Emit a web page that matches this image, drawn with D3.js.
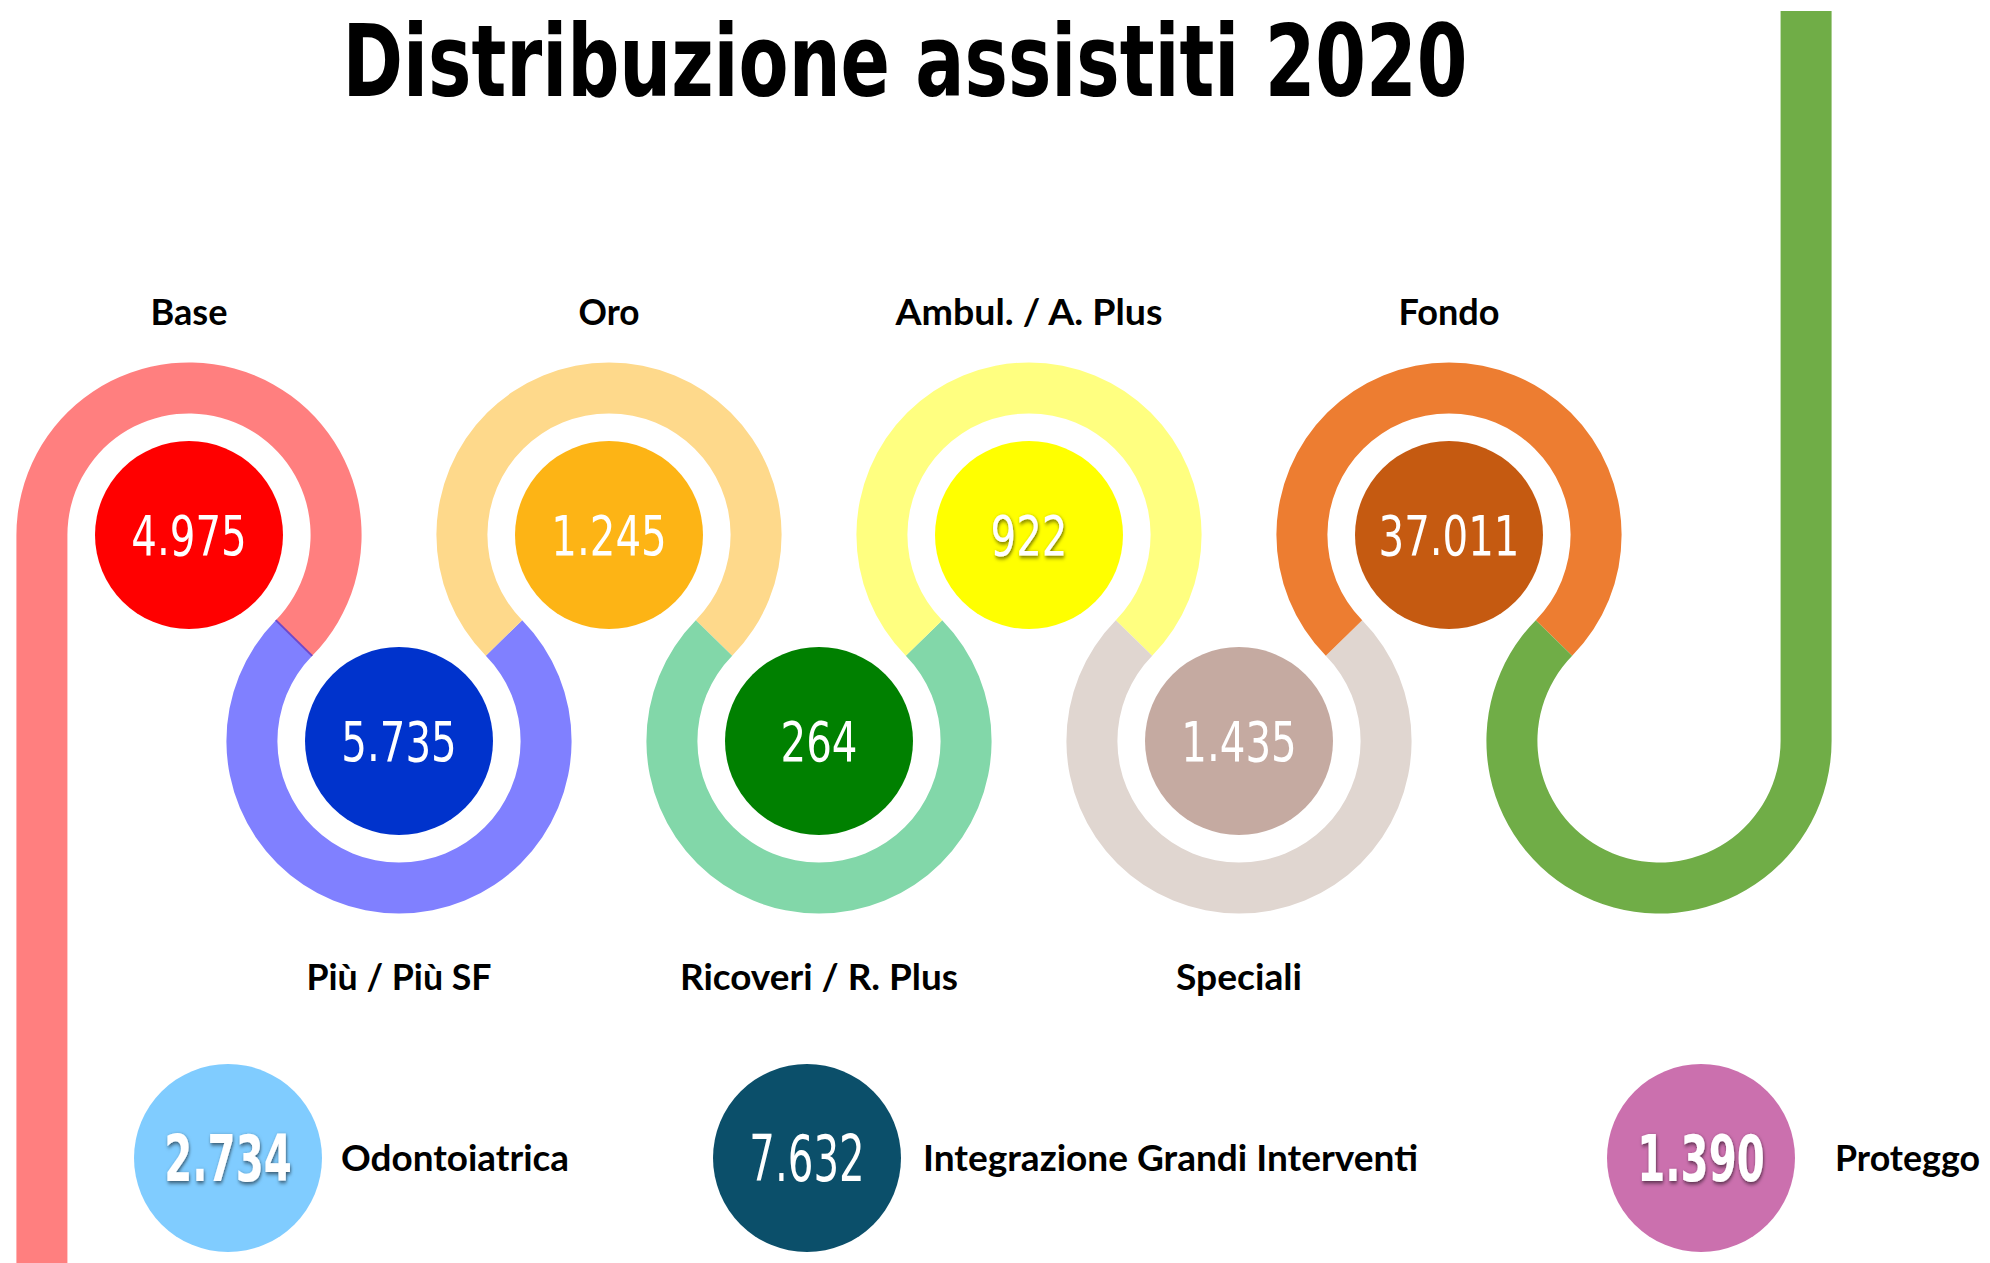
<!DOCTYPE html>
<html>
<head>
<meta charset="utf-8">
<script src="https://cdn.jsdelivr.net/npm/d3@7/dist/d3.min.js"></script>
<style>
  body { margin: 0; background: #fff; }
</style>
</head>
<body>
<script>
var width = 1990;
var height = 1263;

// the path, left to right (last step is only the green tail)
var steps = ["Base", "Più / Più SF", "Oro", "Ricoveri / R. Plus", "Ambul. / A. Plus", "Speciali", "Fondo"];
var assistiti = [4975, 5735, 1245, 264, 922, 1435, 37011];
var ringColors = ["#ff7f7f", "#8080ff", "#fed98b", "#82d7a9", "#ffff80", "#e0d6d0", "#ed7d31", "#70ad47"];
var dotColors = ["#ff0000", "#0033cc", "#fdb415", "#008000", "#ffff00", "#c5aaa1", "#c55a11"];

// other products at the bottom
var others = ["Odontoiatrica", "Integrazione Grandi Interventi", "Proteggo"];
var othersValues = [2734, 7632, 1390];
var othersColors = ["#80ccff", "#0b4f6a", "#cb70ae"];

// label widths in the picture (text is squeezed to these)
var labelWidths = [77, 185, 61, 278, 267, 126, 101];
var othersWidths = [228, 495, 145];
var shadowed = ["Ambul. / A. Plus", "Odontoiatrica", "Proteggo"];

var fmt = d3.formatLocale({decimal: ",", thousands: ".", grouping: [3], currency: ["€", ""]}).format(",d");

var svg = d3.select("body")
  .append("svg")
  .attr("width", width)
  .attr("height", height);

var defs = svg.append("defs");
defs.append("filter")
  .attr("id", "shadow")
  .attr("x", "-30%").attr("y", "-30%").attr("width", "160%").attr("height", "160%")
  .append("feDropShadow")
  .attr("dx", 1).attr("dy", 2)
  .attr("stdDeviation", 2)
  .attr("flood-color", "#000")
  .attr("flood-opacity", 0.6);

// scales for the snake
var xScale = d3.scaleLinear().domain([0, 7]).range([189, 1659]);
var yScale = d3.scalePoint().domain(["top", "bottom"]).range([535, 741]);
function row(i) { return i % 2 === 0 ? "top" : "bottom"; }

var dx = xScale(1) - xScale(0);
var dy = yScale("bottom") - yScale("top");
var r = Math.hypot(dx, dy) / 2;
var sw = 51;
var alpha = Math.atan2(dy, dx);

var arc = d3.arc()
  .innerRadius(r - sw / 2)
  .outerRadius(r + sw / 2);

function angles(i) {
  if (row(i) === "top") {
    return [i === 0 ? -Math.PI / 2 : -(Math.PI / 2 + alpha), Math.PI / 2 + alpha];
  }
  return [i === 7 ? Math.PI / 2 : Math.PI / 2 - alpha, 3 * Math.PI / 2 + alpha];
}

// straight parts at the two ends
svg.append("rect")
  .attr("x", xScale(0) - r - sw / 2)
  .attr("y", yScale("top"))
  .attr("width", sw)
  .attr("height", height - yScale("top"))
  .attr("fill", ringColors[0]);

svg.append("rect")
  .attr("x", xScale(7) + r - sw / 2)
  .attr("y", 11)
  .attr("width", sw)
  .attr("height", yScale("bottom") - 11)
  .attr("fill", ringColors[7]);

// ring segments
svg.selectAll("path.ring")
  .data(ringColors)
  .enter()
  .append("path")
  .attr("class", "ring")
  .attr("transform", function(d, i) {
    return "translate(" + xScale(i) + "," + yScale(row(i)) + ")";
  })
  .attr("d", function(d, i) {
    var a = angles(i);
    return arc({startAngle: a[0], endAngle: a[1]});
  })
  .attr("fill", function(d) { return d; });

// thin purple seam between Base and Più
var seamA = Math.PI / 2 + alpha;
svg.append("line")
  .attr("x1", xScale(0) + (r - sw / 2) * Math.sin(seamA))
  .attr("y1", yScale("top") - (r - sw / 2) * Math.cos(seamA))
  .attr("x2", xScale(0) + (r + sw / 2) * Math.sin(seamA))
  .attr("y2", yScale("top") - (r + sw / 2) * Math.cos(seamA))
  .attr("stroke", "#7048c8")
  .attr("stroke-width", 2);

// inner discs
svg.selectAll("circle.dot")
  .data(assistiti)
  .enter()
  .append("circle")
  .attr("class", "dot")
  .attr("cx", function(d, i) { return xScale(i); })
  .attr("cy", function(d, i) { return yScale(row(i)); })
  .attr("r", 94)
  .attr("fill", function(d, i) { return dotColors[i]; });

svg.selectAll("text.num")
  .data(assistiti)
  .enter()
  .append("text")
  .attr("class", "num")
  .attr("transform", function(d, i) {
    return "translate(" + xScale(i) + "," + (yScale(row(i)) + 20) + ") scale(0.8,1)";
  })
  .attr("text-anchor", "middle")
  .attr("font-family", "'Liberation Sans Narrow', 'DejaVu Sans Condensed', sans-serif")
  .attr("font-size", "56px")
  .attr("fill", "#fff")
  .attr("filter", function(d, i) { return shadowed.indexOf(steps[i]) >= 0 ? "url(#shadow)" : null; })
  .text(function(d) { return fmt(d); });

// step names
svg.selectAll("text.step")
  .data(steps)
  .enter()
  .append("text")
  .attr("class", "step")
  .attr("x", function(d, i) { return xScale(i); })
  .attr("y", function(d, i) { return row(i) === "top" ? yScale("top") - 210 : yScale("bottom") + 249; })
  .attr("text-anchor", "middle")
  .attr("font-family", "Lato, 'Open Sans', sans-serif")
  .attr("font-weight", 700)
  .attr("font-size", "37px")
  .attr("textLength", function(d, i) { return labelWidths[i]; })
  .attr("lengthAdjust", "spacingAndGlyphs")
  .attr("fill", "#000")
  .text(function(d) { return d; });

// bottom products
var oScale = d3.scaleOrdinal().domain(others).range([228, 807, 1701]);
var oY = 1158;

svg.selectAll("circle.other")
  .data(others)
  .enter()
  .append("circle")
  .attr("class", "other")
  .attr("cx", function(d) { return oScale(d); })
  .attr("cy", oY)
  .attr("r", 94)
  .attr("fill", function(d, i) { return othersColors[i]; });

svg.selectAll("text.othernum")
  .data(others)
  .enter()
  .append("text")
  .attr("class", "othernum")
  .attr("transform", function(d) {
    return "translate(" + oScale(d) + "," + (oY + 23) + ") scale(0.7,1)";
  })
  .attr("text-anchor", "middle")
  .attr("font-family", "'Liberation Sans Narrow', 'DejaVu Sans Condensed', sans-serif")
  .attr("font-size", "64px")
  .attr("font-weight", function(d) { return shadowed.indexOf(d) >= 0 ? 700 : 400; })
  .attr("fill", "#fff")
  .attr("filter", function(d) { return shadowed.indexOf(d) >= 0 ? "url(#shadow)" : null; })
  .text(function(d, i) { return fmt(othersValues[i]); });

svg.selectAll("text.othername")
  .data(others)
  .enter()
  .append("text")
  .attr("class", "othername")
  .attr("x", function(d, i) { return oScale(d) + [113, 116, 134][i]; })
  .attr("y", 1171)
  .attr("font-family", "Lato, 'Open Sans', sans-serif")
  .attr("font-weight", 700)
  .attr("font-size", "37px")
  .attr("textLength", function(d, i) { return othersWidths[i]; })
  .attr("lengthAdjust", "spacingAndGlyphs")
  .attr("fill", "#000")
  .text(function(d) { return d; });

// title
svg.append("text")
  .attr("x", 905)
  .attr("y", 96)
  .attr("text-anchor", "middle")
  .attr("font-family", "'Liberation Sans Narrow', 'DejaVu Sans Condensed', sans-serif")
  .attr("font-weight", 700)
  .attr("font-size", "100px")
  .attr("textLength", 1125)
  .attr("lengthAdjust", "spacingAndGlyphs")
  .attr("fill", "#000")
  .text("Distribuzione assistiti 2020");
</script>
</body>
</html>
